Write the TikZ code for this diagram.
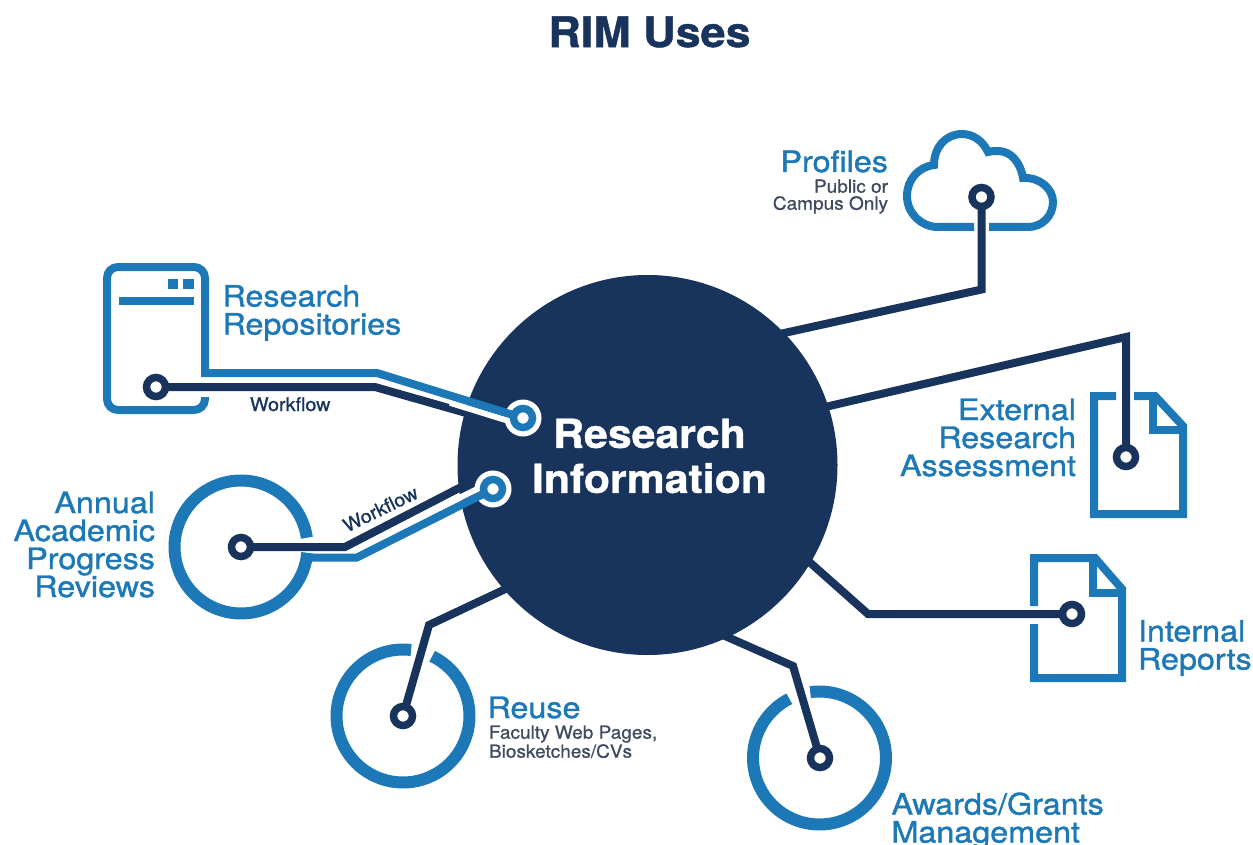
\documentclass[tikz,border=0pt]{standalone}
\usepackage{fontspec}
\setmainfont{TeX Gyre Heros}
\newfontfamily\lblfont[FakeStretch=1.095,FakeBold=1.3]{TeX Gyre Heros}
\newfontfamily\smlfont[FakeStretch=1.05,FakeBold=0.9]{TeX Gyre Heros}
\newfontfamily\hubfont[FakeStretch=1.07,FakeBold=1.0]{TeX Gyre Heros Bold}
\usetikzlibrary{backgrounds}
\definecolor{rimblue}{HTML}{1C78B6}
\definecolor{rimnavy}{HTML}{18335C}
\definecolor{rimgray}{HTML}{3F4A5E}
\pgfdeclarelayer{low}\pgfdeclarelayer{hubl}\pgfdeclarelayer{high}
\pgfsetlayers{low,hubl,high,main}
\tikzset{
  iconline/.style={draw=rimblue,line width=8pt,miter limit=10,line join=miter,fill=none},
  ringline/.style={draw=rimblue,line width=12pt,line join=round},
  navyline/.style={draw=rimnavy,line width=8pt,miter limit=10},
  navyhub/.style={navyline,shorten <=-9pt},
  gapline/.style={draw=white,line width=6pt},
  termnavy/.style={circle,draw=rimnavy,fill=white,line width=7.5pt,minimum size=19pt,inner sep=0pt,outer sep=0pt},
  termblue/.style={circle,draw=rimblue,fill=white,line width=7.5pt,minimum size=19pt,inner sep=0pt,outer sep=0pt},
  halo/.style={circle,fill=white,minimum size=37pt,inner sep=0pt,outer sep=0pt},
  biglabel/.style={text=rimblue,inner sep=0pt,outer sep=0pt,font=\lblfont\fontsize{29.5}{28}\selectfont},
  smalllabel/.style={text=rimgray,inner sep=0pt,outer sep=0pt,font=\smlfont\fontsize{18.1}{#1}\selectfont},
  wflabel/.style={text=rimnavy,inner sep=0pt,outer sep=0pt,font=\smlfont\fontsize{18.8}{18}\selectfont},
}
\newcommand{\ringarc}[5]{\draw[ringline] plot[domain=#4:#5,samples=90] ({#1+#3*cos(\x)},{#2+#3*sin(\x)});}
\begin{document}
\begin{tikzpicture}[x=1pt,y=-1pt]
\useasboundingbox (0,0) rectangle (1253,845);
\clip (0,0) rectangle (1253,845);

% hub
\begin{pgfonlayer}{hubl}
\node[circle,fill=rimnavy,minimum size=380pt,inner sep=0pt,outer sep=0pt] (hub) at (647.5,465) {};
\end{pgfonlayer}

% terminals
\begin{pgfonlayer}{high}
\node[halo] (repoHalo) at (523,418) {};
\node[halo] (annHalo) at (493,489) {};
\end{pgfonlayer}
\node[termblue] (repoB) at (523,418) {};
\node[termblue] (annB) at (493,489) {};
\node[termnavy] (repoN) at (156,387) {};
\node[termnavy] (annN) at (241,547) {};
\node[termnavy] (profT) at (981.5,197) {};
\node[termnavy] (extT) at (1126,457) {};
\node[termnavy] (intT) at (1072,614) {};
\node[termnavy] (reuseT) at (403,716) {};
\node[termnavy] (awardT) at (820,758) {};

% icons
\begin{pgfonlayer}{low}
\coordinate (cloudA) at (974,227);
\coordinate (cloudB) at (989,227);
\draw[iconline] (cloudA) -- (938,227) .. controls (921,227) and (907,213) .. (907,196)
  .. controls (907,180) and (918,167) .. (934,165)
  .. controls (934,147) and (946,134) .. (962,134)
  .. controls (973,134) and (983,141) .. (988,152)
  .. controls (991,151) and (995,151) .. (998,151)
  .. controls (1010,151) and (1020,161) .. (1023,178)
  .. controls (1040,177) and (1053,189) .. (1053,202)
  .. controls (1053,216) and (1042,227) .. (1028,227) -- (cloudB);

\draw[iconline] (1134,396) -- (1155,396) -- (1183,426) -- (1183,514) -- (1094,514) -- (1094,396) -- (1116,396);
\draw[iconline] (1153,396) -- (1153,430) -- (1183,430);

\draw[iconline] (1034,606) -- (1034,558) -- (1095,558) -- (1122,589) -- (1122,678) -- (1034,678) -- (1034,624);
\draw[iconline] (1093,558) -- (1093,593) -- (1122,593);

\ringarc{403}{716}{66.5}{-64}{277}
\ringarc{819.5}{758}{66.5}{-98}{243}
\ringarc{241}{547}{66.5}{5}{352}

% navy connectors
\draw[navyhub] (hub.44) -- (981.5,289.5) -- (profT.center);
\draw[navyhub] (hub.18) -- (1126,337) -- (extT.center);
\draw[navyhub] (hub.-31) -- (868,614) -- (intT.center);
\draw[navyhub] (hub.221) -- (429,625) -- (reuseT.center);
\draw[navyhub] (hub.-65.5) -- (793,666) -- (awardT.center);
\draw[navyhub] (hub.164.6) -- (375,387) -- (repoN.center);
\draw[navyhub] (hub.187.3) -- (345,547) -- (annN.center);
\end{pgfonlayer}

% blue connectors over the hub
\begin{pgfonlayer}{high}
\draw[gapline] (450,402.8) -- (510,421.3);
\draw[gapline] (445,505.2) -- (490,482.7);
\draw[iconline,line join=miter] (205,397) [rounded corners=11pt] -- (205,410) -- (107,410) -- (107,267) -- (205,267) -- (205,320) [sharp corners] -- (205,373) -- (377,373) -- (repoB.center);
\draw[draw=rimblue,line width=8pt] (306,557.5) -- (357,557.5) -- (annB.center);
\end{pgfonlayer}

% server details
\fill[rimblue] (119,297) rectangle (194,305);
\fill[rimblue] (167.5,279) rectangle (178,289);
\fill[rimblue] (183,279) rectangle (194,289);

% title and hub text
\node[text=rimnavy,font=\hubfont\fontsize{42}{44}\selectfont,inner sep=0pt] (title) at (649.5,32) {RIM Uses};
\node[text=white,align=center,inner sep=0pt,font=\hubfont\fontsize{40}{45}\selectfont] (hubtext) at (649.5,456) {Research\\Information};

% labels
\node[biglabel,align=left,anchor=north west] (lrepo) at (222.5,285) {Research\\Repositories};
\node[biglabel,align=right,anchor=north east] (lann) at (155,491.5) {Annual\\Academic\\Progress\\Reviews};
\node[biglabel,anchor=base east] (lprof) at (888,172) {Profiles};
\node[smalllabel=17,align=right,anchor=north east] (lprofs) at (888,179.5) {Public or\\Campus Only};
\node[biglabel,align=right,anchor=north east] (lext) at (1076,398.5) {External\\Research\\Assessment};
\node[biglabel,align=left,anchor=north west] (lint) at (1138,620) {Internal\\Reports};
\node[biglabel,anchor=base west] (lreuse) at (487.5,718) {Reuse};
\node[smalllabel=19,align=left,anchor=north west] (lreuses) at (489,725.5) {Faculty Web Pages,\\Biosketches/CVs};
\node[biglabel,align=left,anchor=north west] (laward) at (891.5,792.5) {Awards/Grants\\Management};
\node[wflabel,anchor=base west] (wf1) at (250,411) {Workflow};
\node[wflabel,rotate=26] (wf2) at (380.5,509) {Workflow};
\end{tikzpicture}
\end{document}
